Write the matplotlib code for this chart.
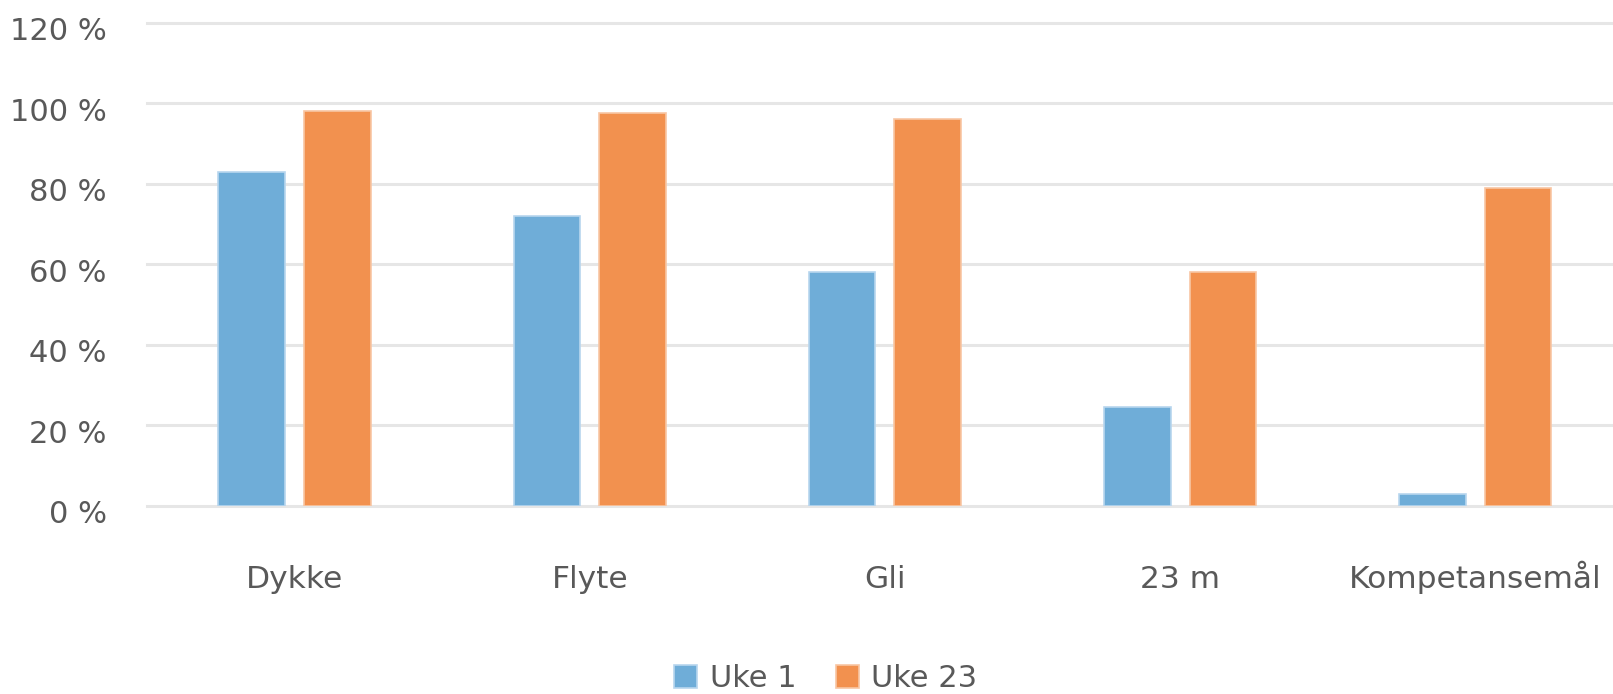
import numpy as np
import matplotlib
matplotlib.use("Agg")
import matplotlib.pyplot as plt
import matplotlib.transforms as mtransforms

categories = ["Dykke", "Flyte", "Gli", "23 m", "Kompetansemål"]
uke1 = [83, 72, 58, 24.5, 3]
uke23 = [98, 97.5, 96, 58, 79]
yticks = [0, 20, 40, 60, 80, 100, 120]
ytick_labels = ["0 %", "20 %", "40 %", "60 %", "80 %", "100 %", "120 %"]

blue = "#6fadd8"
orange = "#f2914f"
text_col = "#595959"

fig = plt.figure(figsize=(16.13, 6.94), dpi=100)
ax = fig.add_axes([0.0911, 0.2709, 0.915, 0.6965])

x = np.arange(len(categories))
w = 0.226
off = 0.145
b1 = ax.bar(x - off, uke1, w, color=blue, edgecolor="#b8d6ee", linewidth=1.2, label="Uke 1", zorder=3)
b2 = ax.bar(x + off, uke23, w, color=orange, edgecolor="#f8c6a4", linewidth=1.2, label="Uke 23", zorder=3)

ax.set_xlim(-0.5, len(categories) - 0.5)
ax.set_ylim(0, 120)
ax.set_yticks(yticks)
ax.set_yticklabels(ytick_labels)
ax.set_xticks(x)
ax.set_xticklabels(categories, va="baseline")

for s in ax.spines.values():
    s.set_visible(False)
ax.yaxis.grid(True, color="#e6e6e6", linewidth=2.2, zorder=0)
for gl in ax.get_ygridlines():
    gl.set_clip_on(False)
ax.set_axisbelow(True)

ax.tick_params(axis="y", length=0, pad=29, labelsize=22, labelcolor=text_col)
ax.tick_params(axis="x", length=0, pad=59, labelsize=22.5, labelcolor=text_col)

# y labels sit a bit below their gridlines in the original
shift = mtransforms.ScaledTranslation(0, -6 / 100, fig.dpi_scale_trans)
for lbl in ax.get_yticklabels():
    lbl.set_transform(lbl.get_transform() + shift)

fig.legend(handles=[b1, b2], labels=["Uke 1", "Uke 23"], loc="center",
           bbox_to_anchor=(0.512, 0.022), ncol=2, frameon=False,
           fontsize=22, labelcolor=text_col, handlelength=0.75, handleheight=0.75,
           handletextpad=0.4, columnspacing=1.3)

fig.savefig("out.png", dpi=100)
